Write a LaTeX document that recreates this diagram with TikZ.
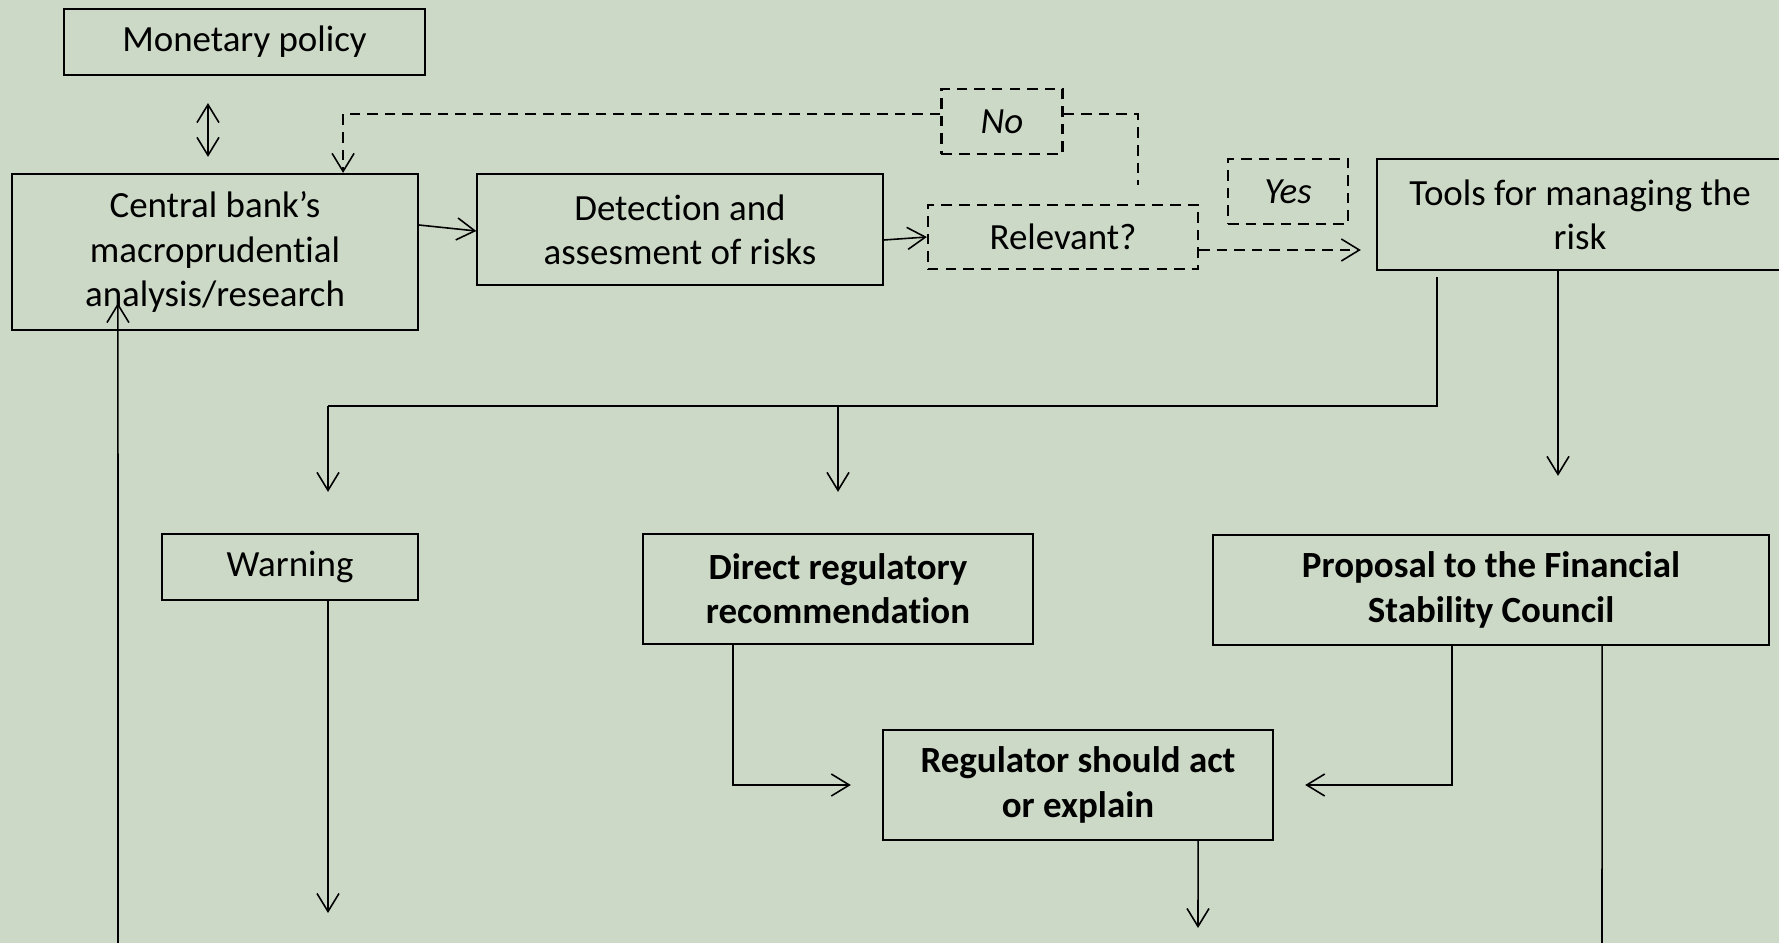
\documentclass[tikz,border=0pt]{standalone}
\usepackage{fontspec}
\setmainfont{Carlito}[Ligatures=NoCommon]
\usetikzlibrary{arrows.meta}
\definecolor{slidebg}{RGB}{204,217,199}
\begin{document}
\begin{tikzpicture}[x=0.01cm,y=-0.01cm,
    box/.style={draw,line width=0.6pt,align=center,inner sep=0pt,
        font=\fontsize{10.5}{12.6}\selectfont},
    dbox/.style={box,dash pattern=on 3pt off 2pt},
    link/.style={line width=0.45pt,-{Straight Barb[length=1.8mm,width=2.2mm]}},
    dlink/.style={link,dash pattern=on 3pt off 2pt}]
\useasboundingbox[fill=slidebg] (0,0) rectangle (1779,943);
\node[box,minimum width=3.61cm,minimum height=0.66cm] (mon) at (244.5,42) {Monetary policy};
\node[box,minimum width=4.05cm,minimum height=1.56cm] (cb) at (215,252) {Central bank’s\\macroprudential\\analysis/research};
\node[box,minimum width=4.05cm,minimum height=1.11cm] (det) at (680,229.5) {Detection and\\assesment of risks};
\node[dbox,minimum width=1.21cm,minimum height=0.65cm] (no) at (1002,121.5) {\itshape No};
\node[dbox,minimum width=2.70cm,minimum height=0.64cm] (rel) at (1063,237) {Relevant?};
\node[dbox,minimum width=1.20cm,minimum height=0.65cm] (yes) at (1288,191.5) {\itshape Yes};
\node[box,minimum width=4.06cm,minimum height=1.11cm] (tools) at (1580,214.5) {Tools for managing the\\risk};
\node[box,minimum width=2.56cm,minimum height=0.66cm] (warn) at (290,567) {Warning};
\node[box,minimum width=3.90cm,minimum height=1.10cm] (dir) at (838,589) {\bfseries Direct regulatory\\\bfseries recommendation};
\node[box,minimum width=5.56cm,minimum height=1.10cm] (prop) at (1491,590) {\bfseries Proposal to the Financial\\\bfseries Stability Council};
\node[box,minimum width=3.90cm,minimum height=1.10cm] (reg) at (1078,785) {\bfseries Regulator should act\\\bfseries or explain};
\coordinate (br) at (328,406);
\coordinate (wend) at (328,913);
\coordinate (regend) at (1198,928);
\coordinate (propend) at (1602,943);
\coordinate (loopstart) at (118,943);
% top row
\draw[link,{Straight Barb[length=1.8mm,width=2.2mm]}-{Straight Barb[length=1.8mm,width=2.2mm]},shorten <=0.27cm,shorten >=0.16cm]
    ([xshift=-0.365cm]mon.south) -- ([xshift=-0.07cm]cb.north);
\draw[link] ([yshift=0.27cm]cb.east) -- ([yshift=-0.015cm]det.west);
\draw[link] ([yshift=-0.105cm]det.east) -- (rel.west);
\draw[dlink] ([yshift=0.075cm]no.west) -| ([xshift=1.28cm]cb.north);
\draw[dlink,-] ([yshift=0.075cm]no.east) -| ([xshift=0.75cm,yshift=0.19cm]rel.north);
\draw[dlink,shorten >=0.15cm] ([yshift=-0.13cm]rel.east) -- ([yshift=-0.13cm]rel.east -| tools.west);
% tools
\draw[link,-] ([xshift=-1.43cm,yshift=-0.06cm]tools.south) |- (br);
\draw[link,shorten >=0.41cm] (br) -- (br |- warn.north);
\draw[link,shorten >=0.41cm] (br -| dir.north) -- (dir.north);
\draw[link,shorten >=0.58cm] ([xshift=-0.22cm]tools.south) -- ([xshift=-0.22cm]tools.south |- prop.north);
% lower part
\draw[link] (warn.south -| br) -- (wend);
\draw[link,shorten >=0.31cm] ([xshift=-1.05cm]dir.south) |- (reg.west);
\draw[link,shorten >=0.31cm] ([xshift=-0.39cm]prop.south) |- (reg.east);
\draw[link] ([xshift=1.2cm]reg.south) -- (regend);
\draw[link,-] ([xshift=1.11cm]prop.south) -- (propend);
\draw[link] (loopstart) -- ([xshift=-0.97cm,yshift=0.28cm]cb.south);
\end{tikzpicture}
\end{document}
